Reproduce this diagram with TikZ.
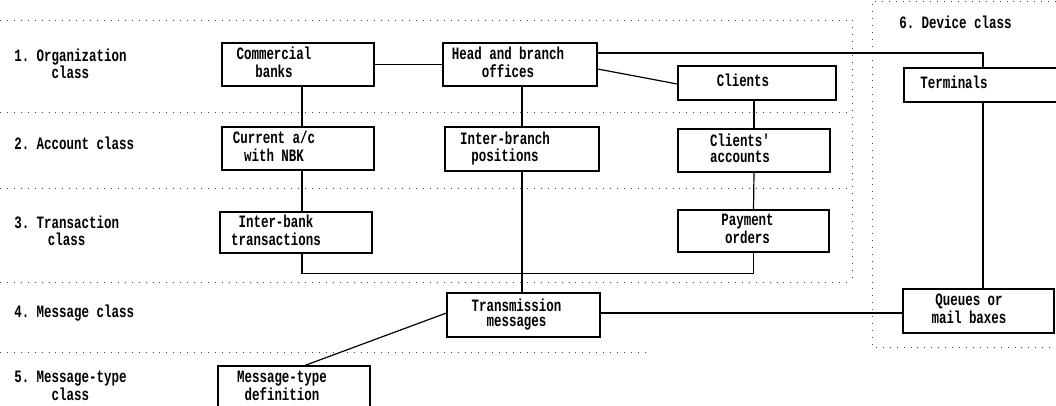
\documentclass[tikz,border=0pt]{standalone}
\usepackage{fontspec}
\setmonofont{Liberation Mono}[FakeStretch=0.72]
\usetikzlibrary{calc}
\newcommand\tfont{\ttfamily\bfseries\fontsize{13}{11.6}\selectfont}
\newcommand\lft[2]{\begin{tabular}{@{}c@{}}#2\end{tabular}\hspace*{#1pt}}
\tikzset{
  bx/.style 2 args={draw, line width=0.9pt, minimum width=#1*0.75pt, minimum height=#2*0.75pt, inner sep=0pt, font=\tfont},
  lbl/.style={inner sep=0pt, font=\tfont, anchor=west},
  conn/.style={line width=0.9pt},
  dotl/.style={line width=0.7pt, dash pattern=on 0.7pt off 4.5pt, black!75},
}
\begin{document}
\begin{tikzpicture}[x=0.75pt, y=-0.75pt]
\useasboundingbox (0,0) rectangle (1056,405);
% dotted band separators
\draw[dotl] (0,20) -- (852,20);
\draw[dotl] (0,112) -- (852,112);
\draw[dotl] (0,188) -- (852,188);
\draw[dotl] (0,282) -- (852,282);
\draw[dotl] (852,20) -- (852,282);
\draw[dotl] (0,352) -- (647,352);
\draw[dotl] (1056,1) -- (872,1) -- (872,347) -- (1056,347);
% class labels
\node[lbl] (l1) at (14,66) {\begin{tabular}{@{}c@{}}1. Organization\\class\end{tabular}};
\node[lbl] (l2) at (14,143) {2. Account class};
\node[lbl] (l3) at (14,233) {\begin{tabular}{@{}c@{}}3. Transaction\\class\end{tabular}};
\node[lbl] (l4) at (14,313) {4. Message class};
\node[lbl] (l5) at (14,388) {\begin{tabular}{@{}c@{}}5. Message-type\\class\end{tabular}};
\node[lbl] (l6) at (899,22) {6. Device class};
% boxes
\node[bx={152}{43}] (cb) at (298,64.5) {\lft{36}{Commercial\\banks}};
\node[bx={154}{43}] (hb) at (520,64.5) {\lft{18}{Head and branch\\offices}};
\node[bx={158}{34}] (cl) at (757,83) {\lft{21}{Clients}};
\node[bx={158}{34}] (te) at (983,85) {\lft{43.5}{Terminals}};
\node[bx={152}{43}] (ca) at (298,148.5) {\lft{36}{Current a/c\\with NBK}};
\node[bx={154}{44}] (ib) at (522,149) {\lft{25.5}{Inter-branch\\positions}};
\node[bx={152}{43}] (cla) at (754,150.5) {\lft{21}{Clients'\\accounts}};
\node[bx={152}{41}] (it) at (296,232.5) {\lft{30}{Inter-bank\\transactions}};
\node[bx={151}{42}] (po) at (753.5,231) {\lft{9}{Payment\\orders}};
\node[bx={153}{44}] (tm) at (523.5,315) {\lft{10.5}{Transmission\\messages}};
\node[bx={151}{44}] (qm) at (978.5,311) {\lft{14.25}{Queues or\\mail baxes}};
\node[bx={152}{44}] (md) at (294,388) {\lft{18}{Message-type\\definition}};
% connectors
\coordinate (xa) at (302,0);
\draw[conn] (cb.east) -- (hb.west);
\draw[conn] (cb.south -| xa) -- (ca.north -| xa);
\draw[conn] (ca.south -| xa) -- (it.north -| xa);
\draw[conn] (it.south -| xa) -- ++(0,20) -| (po.south);
\draw[conn] (ib.north |- hb.south) -- (ib.north);
\draw[conn] (ib.south) -- (ib.south |- tm.north);
\draw[conn] ($(hb.east)+(0,4.5)$) -- ($(cl.west)+(0,1)$);
\draw[conn] ($(hb.east)+(0,-11.5)$) -| (te.north);
\draw[conn] (cla.north |- cl.south) -- (cla.north);
\draw[conn] (cla.south) -- (po.north);
\draw[conn] (te.south) -- (te.south |- qm.north);
\draw[conn] ($(tm.east)+(0,-2)$) -- ($(qm.west)+(0,2)$);
\draw[conn] ($(tm.west)+(0,-2)$) -- ($(md.north)+(11,0)$);
\end{tikzpicture}
\end{document}
